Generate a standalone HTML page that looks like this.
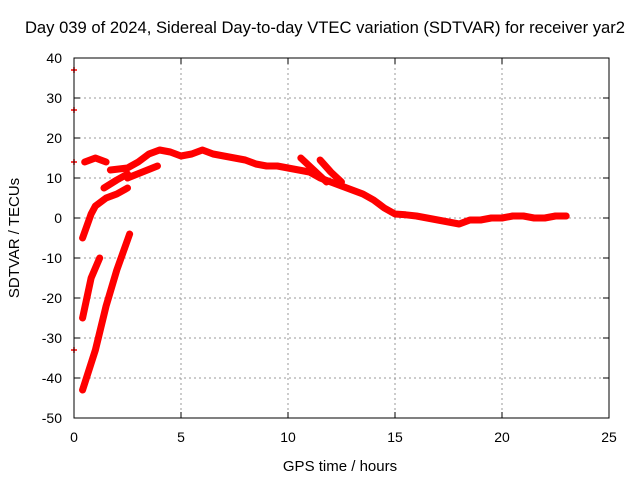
<!DOCTYPE html>
<html><head><meta charset="utf-8"><style>
body{margin:0;background:#fff;}
svg{display:block;font-family:"Liberation Sans",sans-serif;}
</style></head><body>
<svg id="chart" width="640" height="480" viewBox="0 0 640 480">
<rect width="640" height="480" fill="#fff"/>
<text x="325" y="33" font-size="16.6" text-anchor="middle">Day 039 of 2024, Sidereal Day-to-day VTEC variation (SDTVAR) for receiver yar2</text>
<g id="grid"></g>
<g id="ticks"></g>
<g id="series"></g>
<rect x="74" y="58" width="535" height="360" fill="none" stroke="#000" stroke-width="1"/>
<text x="340" y="471" font-size="15" text-anchor="middle">GPS time / hours</text>
<text x="0" y="0" font-size="15" text-anchor="middle" transform="translate(19,238) rotate(-90)">SDTVAR / TECUs</text>
</svg>
<script>
const xTicks=[0,5,10,15,20,25];
const yTicks=[40,30,20,10,0,-10,-20,-30,-40,-50];
const segMain=[[1.7,12],[2.5,12.5],[3,14],[3.5,16],[4,17],[4.5,16.5],[5,15.5],[5.5,16],[6,17],[6.5,16],[7,15.5],[7.5,15],[8,14.5],[8.5,13.5],[9,13],[9.5,13],[10,12.5],[10.5,12],[11,11.5],[11.5,10],[12,9],[12.5,8],[13,7],[13.5,6],[14,4.5],[14.5,2.5],[15,1],[15.5,0.8],[16,0.5],[16.5,0],[17,-0.5],[17.5,-1],[18,-1.5],[18.5,-0.5],[19,-0.5],[19.5,0],[20,0],[20.5,0.5],[21,0.5],[21.5,0],[22,0],[22.5,0.5],[23,0.5]];
const segTop=[[0.5,14],[1,15],[1.5,14]];
const segLow=[[0.4,-5],[0.6,-2],[0.8,1],[1,3],[1.5,5],[2,6],[2.5,7.5]];
const segMid1=[[1.4,7.5],[2,9.5],[2.5,11]];
const segMid2=[[2.5,10],[3.2,11.5],[3.9,13]];
const segDiag1=[[10.6,15],[11.2,12],[11.8,9]];
const segDiag2=[[11.5,14.5],[12,11.5],[12.5,9]];
const segNeg1=[[0.4,-25],[0.6,-20],[0.8,-15],[1.2,-10]];
const segNeg2=[[0.4,-43],[1,-33],[1.5,-22],[2,-13],[2.6,-4]];
const isolated=[[0,37],[0,27],[0,14],[0,-33]];
const X=v=>74+v*535/25, Y=v=>418-(v+50)*4;
const NS="http://www.w3.org/2000/svg";
function mk(t,a,p){const e=document.createElementNS(NS,t);for(const k in a)e.setAttribute(k,a[k]);p.appendChild(e);return e;}
const grid=document.getElementById('grid'),ticks=document.getElementById('ticks'),ser=document.getElementById('series');
xTicks.forEach(v=>{
 if(v>0&&v<25){const l=mk('line',{x1:X(v),x2:X(v),y1:58,y2:418,stroke:'#999','stroke-dasharray':'2,3','stroke-width':1},grid);
 
 }
 mk('line',{x1:X(v),x2:X(v),y1:418,y2:412,stroke:'#000'},ticks);
 mk('line',{x1:X(v),x2:X(v),y1:58,y2:64,stroke:'#000'},ticks);
 const t=mk('text',{x:X(v),y:442,'font-size':14,'text-anchor':'middle'},ticks);t.textContent=v;
 
 
});
yTicks.forEach(v=>{
 if(v<40&&v>-50){const l=mk('line',{x1:74,x2:609,y1:Y(v),y2:Y(v),stroke:'#999','stroke-dasharray':'2,3','stroke-width':1},grid);
 
 }
 mk('line',{x1:74,x2:80,y1:Y(v),y2:Y(v),stroke:'#000'},ticks);
 mk('line',{x1:609,x2:603,y1:Y(v),y2:Y(v),stroke:'#000'},ticks);
 const t=mk('text',{x:62,y:Y(v)+5,'font-size':14,'text-anchor':'end'},ticks);t.textContent=v;
 
 
});
[segMain,segTop,segLow,segMid1,segMid2,segDiag1,segDiag2,segNeg1,segNeg2].forEach(s=>{
 const p=mk('polyline',{points:s.map(d=>X(d[0])+','+Y(d[1])).join(' '),fill:'none',stroke:'#f00','stroke-width':7,'stroke-linejoin':'round','stroke-linecap':'round'},ser);
 
 
});
isolated.forEach(d=>{
 const g=mk('path',{d:`M${X(d[0])-3},${Y(d[1])}h6M${X(d[0])},${Y(d[1])-3}v6`,stroke:'#f00','stroke-width':1.5},ser);
 
 
});
</script>
</body></html>
